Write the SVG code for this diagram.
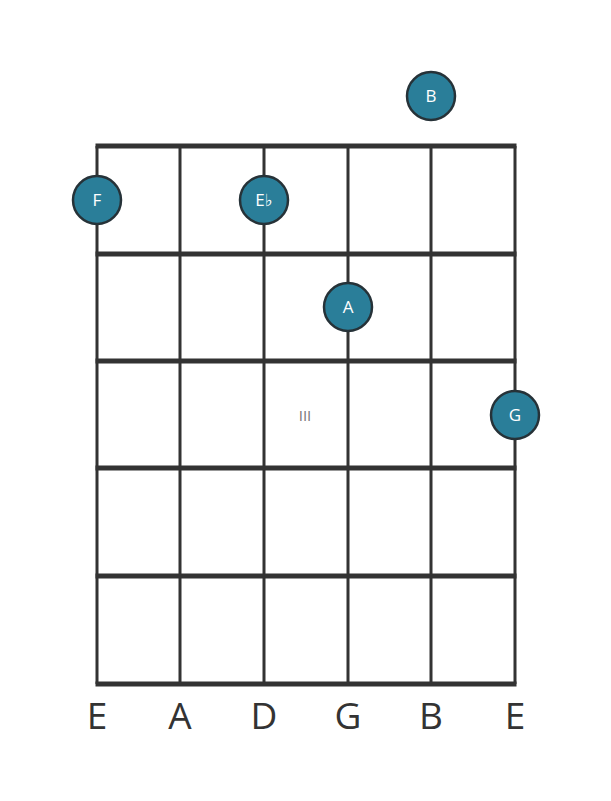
<svg xmlns="http://www.w3.org/2000/svg" width="611" height="801" viewBox="0 0 611 801">
<style>
.str{stroke:#333333;stroke-width:3;fill:none}
.fret{stroke:#333333;stroke-width:5;fill:none}
.dot{fill:#2a7e99;stroke:#263238;stroke-width:2.5}
.dl{font-family:"Open Sans","DejaVu Sans",sans-serif;font-size:17px;fill:#ffffff;text-anchor:middle}
.sl{font-family:"Open Sans","DejaVu Sans",sans-serif;font-size:37px;fill:#333333;text-anchor:middle}
.pos{font-family:"Open Sans","DejaVu Sans",sans-serif;font-size:15px;fill:#777777;text-anchor:middle}
</style>
<rect width="611" height="801" fill="#ffffff"/>
<g id="connectors">
<line class="str" x1="97" y1="146" x2="97" y2="684"/>
<line class="str" x1="180" y1="146" x2="180" y2="684"/>
<line class="str" x1="264" y1="146" x2="264" y2="684"/>
<line class="str" x1="348" y1="146" x2="348" y2="684"/>
<line class="str" x1="431" y1="146" x2="431" y2="684"/>
<line class="str" x1="515" y1="146" x2="515" y2="684"/>
<line class="fret" x1="95.5" y1="146" x2="516.5" y2="146"/>
<line class="fret" x1="95.5" y1="254" x2="516.5" y2="254"/>
<line class="fret" x1="95.5" y1="361" x2="516.5" y2="361"/>
<line class="fret" x1="95.5" y1="468" x2="516.5" y2="468"/>
<line class="fret" x1="95.5" y1="576" x2="516.5" y2="576"/>
<line class="fret" x1="95.5" y1="684" x2="516.5" y2="684"/>
</g>
<text class="pos" x="305" y="421">III</text>
<g id="note-B"><circle class="dot" cx="431" cy="96" r="24"/><text class="dl" x="431" y="102">B</text></g>
<g id="note-F"><circle class="dot" cx="97" cy="200" r="24"/><text class="dl" x="97" y="206">F</text></g>
<g id="note-Eb"><circle class="dot" cx="264" cy="200" r="24"/><text class="dl" x="264" y="206">E♭</text></g>
<g id="note-A"><circle class="dot" cx="348" cy="307" r="24"/><text class="dl" x="348" y="313">A</text></g>
<g id="note-G"><circle class="dot" cx="515" cy="415" r="24"/><text class="dl" x="515" y="421">G</text></g>
<g id="string-labels">
<text class="sl" x="97" y="729">E</text>
<text class="sl" x="180" y="729">A</text>
<text class="sl" x="264" y="729">D</text>
<text class="sl" x="348" y="729">G</text>
<text class="sl" x="431" y="729">B</text>
<text class="sl" x="515" y="729">E</text>
</g>
</svg>
